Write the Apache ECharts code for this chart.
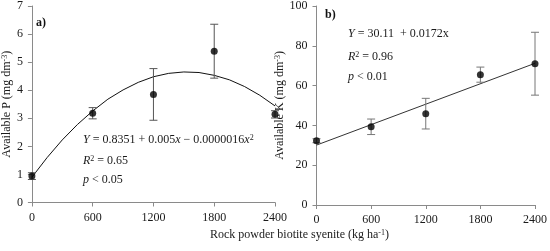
<!DOCTYPE html>
<html>
<head>
<meta charset="utf-8">
<script src="https://cdn.jsdelivr.net/npm/echarts@6/dist/echarts.min.js"></script>
<style>
html,body{margin:0;padding:0;background:#fff;}
#c{width:550px;height:251px;}
</style>
</head>
<body>
<div id="c"></div>
<script>
// ---- data ----
const doses = [0, 600, 1200, 1800, 2400];
const pMean = [0.94, 3.18, 3.85, 5.39, 3.14];
const pErr = [0.12, 0.2, 0.92, 0.96, 0.13];
const kMean = [32.3, 39.3, 45.9, 65.5, 71.0];
const kErr = [1.0, 3.9, 7.7, 3.8, 15.8];
// fitted curve (panel a) and fitted line (panel b)
const pCurveX = [0, 150, 300, 450, 600, 750, 900, 1050, 1200, 1350, 1500, 1650, 1800, 1950, 2100, 2250, 2400];
const pCurveY = [0.90, 1.60, 2.23, 2.78, 3.26, 3.68, 4.01, 4.28, 4.48, 4.60, 4.65, 4.63, 4.53, 4.37, 4.13, 3.82, 3.44];
const kLineX = [0, 2400];
const kLineY = [30.1, 71.2];

const FONT = 'Liberation Serif';
const AXIS_COLOR = '#8a8a8a';
const TXT = '#1a1a1a';

function pairs(xs, ys) { return xs.map((x, i) => [x, ys[i]]); }
function errData(xs, m, e) { return xs.map((x, i) => [x, m[i] - e[i], m[i] + e[i]]); }

function errSeries(idx, data, color) {
  return {
    type: 'custom', xAxisIndex: idx, yAxisIndex: idx, z: 3,
    data: data,
    renderItem: function (params, api) {
      const x = api.value(0);
      const top = api.coord([x, api.value(2)]);
      const bot = api.coord([x, api.value(1)]);
      const hw = 4;
      const st = { stroke: color, lineWidth: 1 };
      return {
        type: 'group',
        children: [
          { type: 'line', shape: { x1: top[0], y1: top[1], x2: bot[0], y2: bot[1] }, style: st },
          { type: 'line', shape: { x1: top[0] - hw, y1: top[1], x2: top[0] + hw, y2: top[1] }, style: st },
          { type: 'line', shape: { x1: bot[0] - hw, y1: bot[1], x2: bot[0] + hw, y2: bot[1] }, style: st }
        ]
      };
    }
  };
}

function xAxis(idx) {
  return {
    type: 'value', gridIndex: idx, min: 0, max: 2400, interval: 600,
    axisLine: { show: true, lineStyle: { color: AXIS_COLOR, width: 1 } },
    axisTick: { show: true, length: 4, lineStyle: { color: AXIS_COLOR } },
    splitLine: { show: false },
    axisLabel: { fontFamily: FONT, fontSize: 12, color: TXT, margin: 9,
      formatter: v => String(v) }
  };
}

const supRich = {
  n: { fontFamily: FONT, fontSize: 12, color: TXT },
  s: { fontFamily: FONT, fontSize: 8, color: TXT, verticalAlign: 'top', lineHeight: 12 }
};
const iRich = {
  i: { fontFamily: FONT, fontStyle: 'italic', fontSize: 12, fill: TXT },
  s: { fontFamily: FONT, fontSize: 8, verticalAlign: 'top', lineHeight: 12, fill: TXT }
};
function txt(left, top, text) {
  return { type: 'text', left: left, top: top, style: {
    text: text, rich: iRich, fontFamily: FONT, fontSize: 12, fill: TXT } };
}

const option = {
  animation: false,
  backgroundColor: '#fff',
  grid: [
    { left: 30, right: 275, top: 6, bottom: 48.5 },
    { left: 316.5, right: 11.5, top: 4, bottom: 46 }
  ],
  xAxis: [xAxis(0), xAxis(1)],
  yAxis: [
    {
      type: 'value', gridIndex: 0, min: 0, max: 7, interval: 1,
      axisLine: { show: true, lineStyle: { color: AXIS_COLOR } },
      axisTick: { show: true, length: 4, lineStyle: { color: AXIS_COLOR } },
      splitLine: { show: false },
      axisLabel: { fontFamily: FONT, fontSize: 12, color: TXT, margin: 9 },
      name: '{n|Available P (mg dm}{s|-3}{n|)}',
      nameLocation: 'middle', nameGap: 16, nameRotate: 90,
      nameTextStyle: { rich: supRich }
    },
    {
      type: 'value', gridIndex: 1, min: 0, max: 100, interval: 20,
      axisLine: { show: true, lineStyle: { color: AXIS_COLOR } },
      axisTick: { show: true, length: 4, lineStyle: { color: AXIS_COLOR } },
      splitLine: { show: false },
      axisLabel: { fontFamily: FONT, fontSize: 12, color: TXT, margin: 9 },
      name: '{n|Available K (mg dm}{s|-3}{n|)}',
      nameLocation: 'middle', nameGap: 23, nameRotate: 90,
      nameTextStyle: { rich: supRich }
    }
  ],
  series: [
    {
      type: 'line', xAxisIndex: 0, yAxisIndex: 0, data: pairs(pCurveX, pCurveY),
      smooth: false, showSymbol: false, lineStyle: { color: '#111', width: 1 }, z: 2
    },
    errSeries(0, errData(doses, pMean, pErr), '#555'),
    {
      type: 'scatter', xAxisIndex: 0, yAxisIndex: 0, data: pairs(doses, pMean),
      symbol: 'circle', symbolSize: 7, itemStyle: { color: '#000' }, z: 4
    },
    {
      type: 'line', xAxisIndex: 1, yAxisIndex: 1, data: pairs(kLineX, kLineY),
      showSymbol: false, lineStyle: { color: '#333', width: 1 }, z: 2
    },
    errSeries(1, errData(doses, kMean, kErr), '#777'),
    {
      type: 'scatter', xAxisIndex: 1, yAxisIndex: 1, data: pairs(doses, kMean),
      symbol: 'circle', symbolSize: 7, itemStyle: { color: '#000' }, z: 4
    }
  ],
  graphic: [
    { type: 'text', left: 36, top: 17, style: { text: 'a)', font: 'bold 12px "Liberation Serif"', fill: '#111' } },
    { type: 'text', left: 325, top: 9, style: { text: 'b)', font: 'bold 12px "Liberation Serif"', fill: '#111' } },
    txt(83, 134, '{i|Y} = 0.8351 + 0.005{i|x} − 0.0000016{i|x}{s|2}'),
    txt(83, 155, '{i|R}{s|2} = 0.65'),
    txt(83, 174, '{i|p} < 0.05'),
    txt(348, 28, '{i|Y} = 30.11  + 0.0172x'),
    txt(348, 51, '{i|R}{s|2} = 0.96'),
    txt(348, 71, '{i|p} < 0.01'),
    { type: 'text', left: 210, top: 229, style: {
      text: 'Rock powder biotite syenite (kg ha{s|-1})',
      rich: { s: { fontFamily: FONT, fontSize: 8, verticalAlign: 'top', lineHeight: 12, fill: TXT } },
      fontFamily: FONT, fontSize: 12, fill: TXT } }
  ]
};

const chart = echarts.init(document.getElementById('c'), null, { renderer: 'canvas' });
chart.setOption(option);
</script>
</body>
</html>
